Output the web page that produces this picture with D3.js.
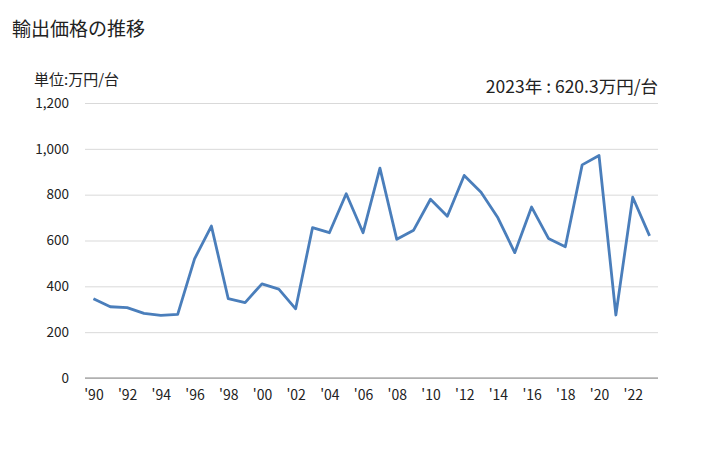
<!DOCTYPE html>
<html lang="ja">
<head>
<meta charset="UTF-8">
<title>輸出価格の推移</title>
<script src="https://cdn.jsdelivr.net/npm/d3@7"></script>
<style>
  body { margin: 0; background: #fff; }
  text { font-family: "Noto Sans CJK JP", "Noto Sans", sans-serif; fill: #222; }
</style>
</head>
<body>
<svg id="chart" width="728" height="450"></svg>
<script>
// 年 (1990-2023)
const years = [1990, 1991, 1992, 1993, 1994, 1995, 1996, 1997, 1998, 1999,
  2000, 2001, 2002, 2003, 2004, 2005, 2006, 2007, 2008, 2009,
  2010, 2011, 2012, 2013, 2014, 2015, 2016, 2017, 2018, 2019,
  2020, 2021, 2022, 2023]
// 輸出価格 (万円/台)
const prices = [346, 311, 307, 282, 273, 278, 520, 663, 346, 329,
  411, 388, 302, 656, 634, 804, 634, 916, 605, 645,
  780, 706, 884, 811, 699, 547, 746, 609, 573, 930,
  971, 275, 789, 620.3]
const yTicks = [0, 200, 400, 600, 800, 1000, 1200]

const svg = d3.select('#chart')
const margin = {top: 103, right: 70, bottom: 72, left: 85}
const innerWidth = 728 - margin.left - margin.right
const innerHeight = 450 - margin.top - margin.bottom

const x = d3.scalePoint()
  .domain(years)
  .range([0, innerWidth])
  .padding(0.5)

const y = d3.scaleLinear()
  .domain([0, 1200])
  .range([innerHeight, 0])

const g = svg.append('g')
  .attr('transform', `translate(${margin.left},${margin.top})`)

// grid
g.append('g')
  .call(d3.axisLeft(y).tickValues(yTicks).tickSize(-innerWidth).tickFormat(d3.format(',')))
  .call(a => a.select('.domain').remove())
  .call(a => a.selectAll('.tick line').attr('stroke', '#d9d9d9'))
  .call(a => a.selectAll('.tick text').attr('x', -16).attr('font-size', 13.5))

// baseline
g.append('line')
  .attr('x1', 0).attr('x2', innerWidth)
  .attr('y1', y(0)).attr('y2', y(0))
  .attr('stroke', '#888')

const xAxis = d3.axisBottom(x)
  .tickValues(years.filter(d => d % 2 === 0))
  .tickSize(0)
  .tickFormat(d => "'" + String(d).slice(2))
g.append('g')
  .attr('transform', `translate(0,${innerHeight})`)
  .call(xAxis)
  .call(a => a.select('.domain').remove())
  .call(a => a.selectAll('.tick text').attr('y', 12).attr('font-size', 14))

const line = d3.line()
  .x((d, i) => x(years[i]))
  .y(d => y(d))

g.append('path')
  .datum(prices)
  .attr('fill', 'none')
  .attr('stroke', '#4a7ebb')
  .attr('stroke-width', 2.8)
  .attr('stroke-linejoin', 'round')
  .attr('d', line)

svg.append('text')
  .attr('x', 12).attr('y', 36)
  .attr('font-size', 19)
  .text('輸出価格の推移')

svg.append('text')
  .attr('x', 34).attr('y', 85)
  .attr('font-size', 15)
  .text('単位:万円/台')

svg.append('text')
  .attr('x', 658).attr('y', 93)
  .attr('text-anchor', 'end')
  .attr('font-size', 17.5)
  .text(`${years[years.length - 1]}年 : ${prices[prices.length - 1]}万円/台`)
</script>
</body>
</html>
